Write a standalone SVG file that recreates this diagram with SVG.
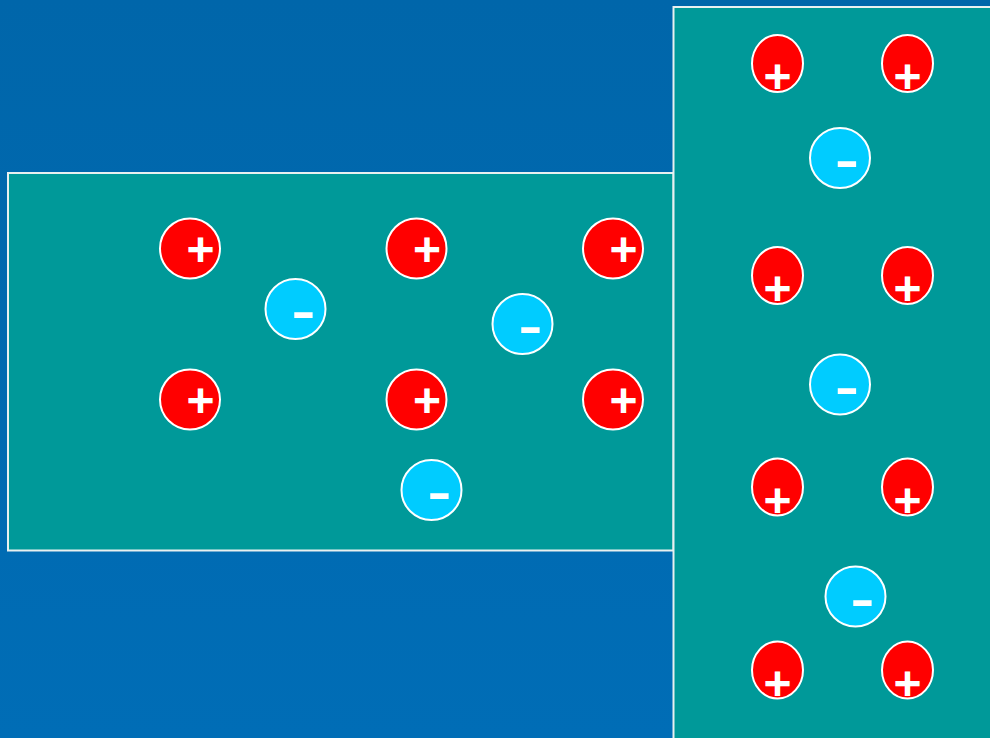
<svg xmlns="http://www.w3.org/2000/svg" width="990" height="738" viewBox="0 0 990 738">
<defs>
<linearGradient id="bg" x1="0" y1="0" x2="0" y2="1">
<stop offset="0" stop-color="#0066aa"/>
<stop offset="1" stop-color="#006db6"/>
</linearGradient>
</defs>
<style>
.panel{fill:#009999;stroke:#e8f0f0;stroke-width:2}
.pos{fill:#ff0000;stroke:#ffffff;stroke-width:2}
.neg{fill:#00ccff;stroke:#ffffff;stroke-width:2}
.plus{font-family:"Liberation Sans",Arial,sans-serif;font-weight:bold;font-size:48px;fill:#ffffff;text-anchor:middle}
.minus{font-family:"Liberation Sans",Arial,sans-serif;font-weight:bold;font-size:48px;fill:#ffffff;text-anchor:middle}
</style>
<rect x="0" y="0" width="990" height="738" fill="url(#bg)"/>
<g id="panel-left"><rect class="panel" x="8" y="173" width="665.5" height="377.5"/></g>
<g id="panel-right"><rect class="panel" x="673.5" y="7" width="330" height="740"/></g>

<g id="pos-l1"><circle class="pos" cx="190" cy="248.5" r="30"/><text class="plus" x="200.5" y="266">+</text></g>
<g id="pos-l2"><circle class="pos" cx="416.5" cy="248.5" r="30"/><text class="plus" x="427" y="266">+</text></g>
<g id="pos-l3"><circle class="pos" cx="613" cy="248.5" r="30"/><text class="plus" x="623.5" y="266">+</text></g>
<g id="pos-l4"><circle class="pos" cx="190" cy="399.5" r="30"/><text class="plus" x="200.5" y="417">+</text></g>
<g id="pos-l5"><circle class="pos" cx="416.5" cy="399.5" r="30"/><text class="plus" x="427" y="417">+</text></g>
<g id="pos-l6"><circle class="pos" cx="613" cy="399.5" r="30"/><text class="plus" x="623.5" y="417">+</text></g>

<g id="neg-l1"><circle class="neg" cx="295.5" cy="309" r="30"/><text class="minus" transform="translate(303.5,328) scale(1.5,1)">-</text></g>
<g id="neg-l2"><circle class="neg" cx="522.5" cy="324" r="30"/><text class="minus" transform="translate(530.5,343) scale(1.5,1)">-</text></g>
<g id="neg-l3"><circle class="neg" cx="431.5" cy="490" r="30"/><text class="minus" transform="translate(439.5,509) scale(1.5,1)">-</text></g>

<g id="pos-r1"><ellipse class="pos" cx="777.5" cy="63.5" rx="25.5" ry="28.5"/><text class="plus" x="777.5" y="93">+</text></g>
<g id="pos-r2"><ellipse class="pos" cx="907.5" cy="63.5" rx="25.5" ry="28.5"/><text class="plus" x="907.5" y="93">+</text></g>
<g id="pos-r3"><ellipse class="pos" cx="777.5" cy="275.5" rx="25.5" ry="28.5"/><text class="plus" x="777.5" y="305">+</text></g>
<g id="pos-r4"><ellipse class="pos" cx="907.5" cy="275.5" rx="25.5" ry="28.5"/><text class="plus" x="907.5" y="305">+</text></g>
<g id="pos-r5"><ellipse class="pos" cx="777.5" cy="487" rx="25.5" ry="28.5"/><text class="plus" x="777.5" y="516.5">+</text></g>
<g id="pos-r6"><ellipse class="pos" cx="907.5" cy="487" rx="25.5" ry="28.5"/><text class="plus" x="907.5" y="516.5">+</text></g>
<g id="pos-r7"><ellipse class="pos" cx="777.5" cy="670" rx="25.5" ry="28.5"/><text class="plus" x="777.5" y="699.5">+</text></g>
<g id="pos-r8"><ellipse class="pos" cx="907.5" cy="670" rx="25.5" ry="28.5"/><text class="plus" x="907.5" y="699.5">+</text></g>

<g id="neg-r1"><circle class="neg" cx="840" cy="158" r="30"/><text class="minus" transform="translate(847,177) scale(1.5,1)">-</text></g>
<g id="neg-r2"><circle class="neg" cx="840" cy="384.5" r="30"/><text class="minus" transform="translate(847,403.5) scale(1.5,1)">-</text></g>
<g id="neg-r3"><circle class="neg" cx="855.5" cy="596.5" r="30"/><text class="minus" transform="translate(862.5,615.5) scale(1.5,1)">-</text></g>
</svg>
